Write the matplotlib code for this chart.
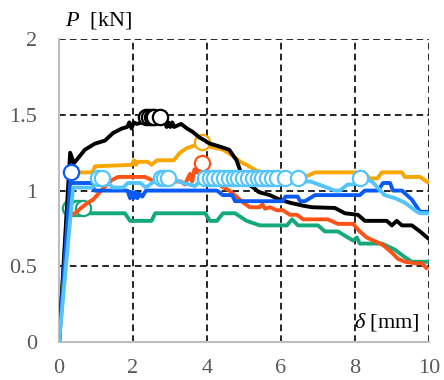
import matplotlib
matplotlib.use('Agg')
import matplotlib.pyplot as plt

plt.rcParams['font.family'] = ['Liberation Serif', 'DejaVu Serif']
plt.rcParams['mathtext.fontset'] = 'custom'
plt.rcParams['mathtext.rm'] = 'Liberation Serif'
plt.rcParams['mathtext.it'] = 'Liberation Serif:italic'

# black specimen
bx = [0, 0.3, 0.4, 0.7, 0.97, 1.24, 1.46, 1.7, 1.84, 1.9, 1.96, 2.02, 2.1, 2.24, 2.32, 2.75,
      2.86, 2.91, 2.96, 3.01, 3.06, 3.11, 3.3, 3.46, 3.6, 3.8, 3.95, 4.0, 4.08, 4.35, 4.6,
      4.8, 4.9, 5.07, 5.25, 5.4, 5.7, 5.97, 6.24, 6.6, 6.84, 7.46, 7.73, 8.08, 8.27, 8.86,
      9.0, 9.13, 9.27, 9.54, 9.76, 10.0]
by = [0, 1.25, 1.18, 1.27, 1.31, 1.33, 1.38, 1.41, 1.42, 1.45, 1.41, 1.45, 1.44, 1.45, 1.48, 1.48,
      1.45, 1.42, 1.45, 1.42, 1.45, 1.42, 1.44, 1.41, 1.39, 1.35, 1.33, 1.32, 1.31, 1.29, 1.27,
      1.2, 1.13, 1.05, 1.02, 0.99, 0.97, 0.94, 0.92, 0.90, 0.89, 0.885, 0.85, 0.84, 0.80, 0.80,
      0.77, 0.80, 0.77, 0.77, 0.73, 0.68]
bmx = [2.35, 2.43, 2.5, 2.57, 2.73]
bmy = [1.485] * len(bmx)

# orange
ox = [0, 0.3, 0.9, 0.97, 1.97, 2.03, 2.08, 2.13, 2.4, 2.5, 2.6, 2.65, 3.1, 3.27, 3.45, 3.7,
      3.86, 4.08, 4.43, 4.7, 4.9, 5.07, 5.35, 5.5, 5.95, 6.05, 6.65, 6.92, 8.25, 8.4, 8.6,
      8.73, 9.27, 9.35, 9.76, 10.0]
oy = [0, 1.12, 1.12, 1.16, 1.17, 1.20, 1.17, 1.19, 1.19, 1.17, 1.19, 1.20, 1.20, 1.25, 1.28, 1.30,
      1.32, 1.29, 1.27, 1.23, 1.19, 1.17, 1.13, 1.12, 1.12, 1.09, 1.09, 1.12, 1.12, 1.08, 1.08,
      1.12, 1.12, 1.09, 1.09, 1.05]
omx = [3.86]
omy = [1.32]

# red
rx = [0, 0.25, 0.3, 0.43, 0.62, 0.78, 0.92, 1.03, 1.1, 1.25, 1.43, 1.6, 2.32, 2.5, 2.6, 3.3,
      3.4, 3.46, 3.54, 3.6, 3.66, 3.73, 3.86, 3.92, 4.1, 4.6, 4.8, 4.98, 5.16, 5.43, 5.5, 5.57,
      5.7, 5.89, 6.05, 6.24, 6.43, 6.6, 7.27, 7.54, 7.95, 8.13, 8.32, 8.59, 8.76, 9.0, 9.16,
      9.35, 9.62, 9.8, 9.97]
ry = [0, 0.78, 0.84, 0.85, 0.89, 0.92, 0.94, 0.97, 0.99, 1.03, 1.07, 1.09, 1.09, 1.07, 1.06, 1.06,
      1.04, 1.07, 1.11, 1.06, 1.14, 1.12, 1.18, 1.10, 1.07, 1.0, 0.96, 0.92, 0.89, 0.89, 0.91, 0.88,
      0.89, 0.87, 0.87, 0.84, 0.84, 0.81, 0.81, 0.78, 0.78, 0.73, 0.69, 0.66, 0.64, 0.59, 0.55,
      0.53, 0.52, 0.52, 0.48]
rmx = [3.86]
rmy = [1.18]

# green
gx = [0, 0.22, 0.65, 0.78, 1.78, 1.92, 2.5, 2.6, 3.95, 4.08, 4.27, 4.43, 4.76, 5.07, 5.43,
      6.16, 6.3, 6.46, 7.0, 7.19, 7.54, 7.81, 7.95, 8.05, 8.13, 8.73, 9.08, 9.35, 9.54, 10.0]
gy = [0, 0.88, 0.88, 0.85, 0.85, 0.80, 0.80, 0.85, 0.85, 0.80, 0.80, 0.85, 0.85, 0.80, 0.77,
      0.77, 0.81, 0.77, 0.77, 0.73, 0.73, 0.69, 0.67, 0.69, 0.65, 0.65, 0.61, 0.56, 0.53, 0.53]
gmx = [0.3, 0.4, 0.5, 0.65]
gmy = [0.885] * len(gmx)

# blue
ux = [0, 0.32, 0.36, 0.9, 0.95, 1.85, 1.92, 1.97, 2.02, 2.07, 2.12, 2.17, 2.25, 2.35, 4.27,
      4.43, 4.68, 4.76, 6.05, 6.12, 6.45, 6.52, 6.65, 6.92, 8.13, 8.27, 8.62, 8.76, 8.95, 9.03,
      9.27, 9.54, 9.76, 10.0]
uy = [0, 1.12, 1.05, 1.05, 1.0, 1.0, 0.95, 0.99, 0.95, 0.99, 0.95, 0.98, 0.96, 1.0, 1.0,
      0.97, 0.97, 0.93, 0.93, 0.96, 0.96, 0.93, 0.93, 0.97, 0.97, 1.0, 1.0, 1.05, 1.05, 1.0,
      1.0, 0.94, 0.86, 0.86]
umx = [0.32]
umy = [1.12]

# light blue
lx = [0, 0.38, 0.9, 1.05, 1.15, 1.32, 1.46, 1.73, 1.86, 2.2, 2.35, 2.7, 3.0, 3.35, 3.68, 3.9,
      6.45, 6.65, 6.8, 7.46, 7.6, 7.8, 7.95, 8.13, 8.46, 8.8, 9.08, 9.35, 9.62, 9.76, 10.0]
ly = [0, 1.02, 1.02, 1.085, 1.085, 1.05, 1.02, 1.02, 1.05, 1.05, 1.02, 1.085, 1.085, 1.05, 1.03,
      1.085, 1.085, 1.06, 1.06, 1.0, 1.0, 1.04, 1.04, 1.085, 1.06, 0.97, 0.95, 0.92, 0.87, 0.85,
      0.85]
lmx = [1.05, 1.15, 2.75, 2.85, 2.95, 3.95, 4.08, 4.2, 4.33, 4.46, 4.59, 4.72, 4.85, 4.98, 5.11,
       5.24, 5.37, 5.5, 5.63, 5.76, 5.9, 6.1, 6.45, 8.13]
lmy = [1.085] * len(lmx)

xticks = [0, 2, 4, 6, 8, 10]
yticks = [0, 0.5, 1, 1.5, 2]
ytick_labels = ['0', '0.5', '1', '1.5', '2']

series = [
    (gx, gy, gmx, gmy, '#14A97A'),
    (rx, ry, rmx, rmy, '#FF5216'),
    (ox, oy, omx, omy, '#F7A700'),
    (bx, by, bmx, bmy, '#000000'),
    (ux, uy, umx, umy, '#0A5BF5'),
    (lx, ly, lmx, lmy, '#55C4FA'),
]

fig = plt.figure(figsize=(4.44, 3.8), dpi=100)
ax = fig.add_axes([0.133, 0.1, 0.833, 0.797])

for i, (x, y, mx, my, c) in enumerate(series):
    ax.plot(x, y, color=c, lw=2.8, solid_joinstyle='round', solid_capstyle='butt', zorder=3 + i)
    ax.plot(mx, my, ls='none', marker='o', ms=11, mfc='white', mec=c, mew=1.6, zorder=3 + i)

ax.set_xlim(0, 10)
ax.set_ylim(0, 2)
ax.set_xticks(xticks)
ax.set_yticks(yticks)
ax.set_yticklabels(ytick_labels)
ax.tick_params(length=0, labelsize=16, labelcolor='#595959')
ax.tick_params(axis='x', pad=12)
ax.tick_params(axis='y', pad=16)

ax.set_axisbelow(True)
ax.grid(True, color='black', lw=1.2, linestyle=(0, (4, 2.5)))
for s in ['top', 'right']:
    ax.spines[s].set_visible(False)
for s in ['left', 'bottom']:
    ax.spines[s].set_color('#BFBFBF')
    ax.spines[s].set_linewidth(1.5)

fig.text(0.147, 0.945, r'$P$  [kN]', fontsize=16, va='center', ha='left', color='black')
ax.text(9.76, 0.13, r'$\delta$ [mm]', fontsize=16, va='center', ha='right', color='black')

fig.savefig('out.png', dpi=100)
